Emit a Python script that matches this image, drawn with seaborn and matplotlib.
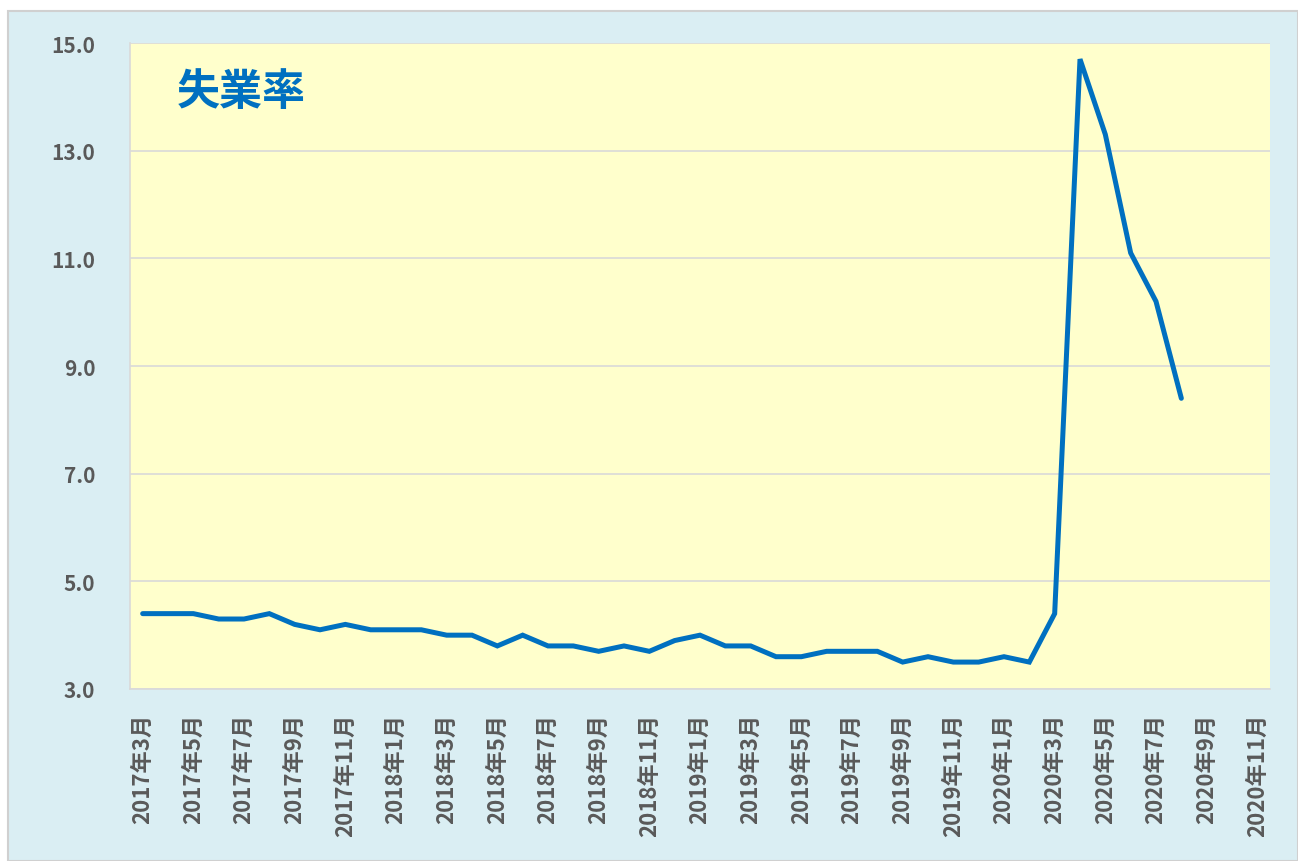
import numpy as np
import matplotlib
matplotlib.use("Agg")
import matplotlib.pyplot as plt
import seaborn as sns
from matplotlib.patches import Rectangle

# unemployment rate, monthly, 2017-03 .. 2020-08
rates = [4.4, 4.4, 4.4, 4.3, 4.3, 4.4, 4.2, 4.1, 4.2, 4.1,
         4.1, 4.1, 4.0, 4.0, 3.8, 4.0, 3.8, 3.8, 3.7, 3.8, 3.7, 3.9,
         4.0, 3.8, 3.8, 3.6, 3.6, 3.7, 3.7, 3.7, 3.5, 3.6, 3.5, 3.5,
         3.6, 3.5, 4.4, 14.7, 13.3, 11.1, 10.2, 8.4]

# category axis runs 2017-03 .. 2020-11
years = [2017] * 10 + [2018] * 12 + [2019] * 12 + [2020] * 11
months = list(range(3, 13)) + list(range(1, 13)) * 2 + list(range(1, 12))
month_labels = [f"{y}年{m}月" for y, m in zip(years, months)]

title = "失業率"
yticks = [3.0, 5.0, 7.0, 9.0, 11.0, 13.0, 15.0]

sns.set_style("white")
plt.rcParams['font.family'] = ['Noto Sans CJK JP', 'DejaVu Sans']

bg = "#DAEEF3"
plot_bg = "#FFFFCC"
line_c = "#0070C0"
text_c = "#595959"
grid_c = "#D9D9D9"

fig = plt.figure(figsize=(12.98, 8.62), dpi=100, facecolor="white")
fig.patches.append(Rectangle((8 / 1298, 0), 1 - 8 / 1298, 850 / 862,
                             transform=fig.transFigure, facecolor=bg,
                             edgecolor="#D0D0D0", linewidth=1.5, zorder=-10))

ax = fig.add_axes([130 / 1298, 1 - 690 / 862, 1140 / 1298, 646 / 862])
ax.set_facecolor(plot_bg)

x = np.arange(len(rates))
sns.lineplot(x=x, y=rates, ax=ax, color=line_c, linewidth=3.6,
             solid_capstyle="round", solid_joinstyle="miter")

ax.set_xlim(-0.5, len(month_labels) - 0.5)
ax.set_ylim(3.0, 15.0)

# y axis
ax.set_yticks(yticks)
ax.set_yticklabels([f"{v:.1f}" for v in yticks], fontsize=15,
                   fontweight="bold", color=text_c)
ax.tick_params(axis="y", length=0, pad=25)
ax.grid(axis="y", color=grid_c, linewidth=1.2)
ax.set_axisbelow(True)

# x axis: labels every 2 months at category centers, tick marks at boundaries
lab_pos = np.arange(0, len(month_labels), 2)
ax.set_xticks(lab_pos)
ax.set_xticklabels([month_labels[i] for i in lab_pos], rotation=90,
                   fontsize=16, fontweight="bold", color=text_c, va="top")
ax.set_xticks(lab_pos - 0.5, minor=True)
ax.tick_params(axis="x", which="major", length=0, pad=17)
ax.tick_params(axis="x", which="minor", length=8, color=grid_c, width=1.2,
               direction="out")

for side in ["top", "right"]:
    ax.spines[side].set_visible(False)
ax.spines["bottom"].set_color(grid_c)
ax.spines["bottom"].set_linewidth(1.2)
ax.spines["left"].set_color(grid_c)
ax.spines["left"].set_linewidth(1.2)

ax.text(0.041, 0.926, title, transform=ax.transAxes, fontsize=31,
        fontweight="bold", color=line_c, va="center", ha="left")

fig.savefig("out.png", dpi=100, facecolor=fig.get_facecolor())
